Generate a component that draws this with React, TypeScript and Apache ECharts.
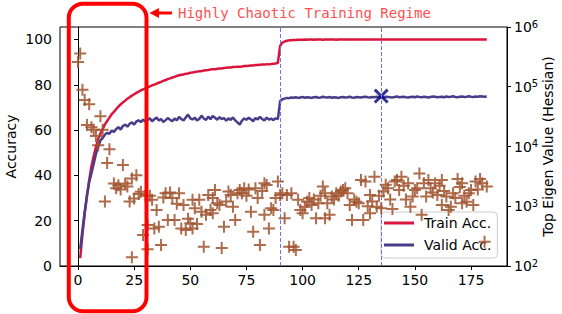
import React, { useEffect, useRef } from "react";
import * as echarts from "echarts";

// Accuracy per epoch (epoch 1..182)
const trainAcc = [
  3.5, 14, 23, 31, 38, 44, 48.5, 52.5, 56, 58.5,
  60.5, 62.5, 64, 65.5, 67, 68, 69.3, 70.3, 71.3, 72.2,
  73, 73.8, 74.5, 75.2, 75.8, 76.4, 77, 77.5, 78, 78.4,
  78.8, 79.3, 79.7, 80.1, 80.5, 80.9, 81.3, 81.7, 82.1, 82.5,
  82.8, 83.2, 83.5, 83.9, 84.2, 84.4, 84.5, 84.9, 85, 85.3,
  85.4, 85.6, 85.8, 86, 86, 86.3, 86.4, 86.5, 86.7, 86.9,
  86.8, 87.1, 87.2, 87.2, 87.4, 87.5, 87.6, 87.6, 87.8, 87.9,
  88, 88, 88.1, 88.3, 88.3, 88.4, 88.5, 88.5, 88.7, 88.7,
  88.8, 88.9, 88.9, 89.1, 89, 89.2, 89.3, 89.4, 89.7, 97.2,
  98.6, 99.1, 99.4, 99.6, 99.7, 99.8, 99.8, 99.9, 99.9, 99.9,
  100, 99.9, 100, 100, 99.9, 100, 100, 100, 99.9, 100,
  100, 100, 100, 100, 99.9, 100, 100, 100, 100, 100,
  100, 100, 100, 100, 100, 100, 100, 100, 100, 100,
  100, 100, 100, 100, 100, 100, 100, 100, 100, 100,
  100, 100, 100, 100, 100, 100, 100, 100, 100, 100,
  100, 100, 100, 100, 100, 100, 100, 100, 100, 100,
  100, 100, 100, 100, 100, 100, 100, 100, 100, 100,
  100, 100, 100, 100, 100, 100, 100, 100, 100, 100,
  100, 100,
];

const validAcc = [
  7.5, 16, 24, 31, 37, 41, 45, 49.5, 52.5, 55.5,
  56.5, 58, 58.8, 58.3, 59.8, 59.2, 60.5, 61.3, 60.2, 61.8,
  62.4, 61.5, 62.8, 63.4, 62.4, 63.8, 64.3, 63.5, 64.6, 63.8,
  64.5, 65.2, 63.9, 64.8, 65.5, 64.2, 64.9, 63.6, 64.4, 65.3,
  64.6, 63.9, 65.1, 64.3, 65.8, 64.9, 64.2, 65.6, 66.8, 65.2,
  64.7, 65.5, 64.3, 64.9, 66.4, 65.1, 64.5, 65.9, 64.8, 66.2,
  65.4, 64.6, 65.7, 64.9, 65.3, 64.1, 65.2, 64.5, 65.6, 64.3,
  63.4, 62.4, 64.2, 65.1, 64.6, 65.4, 64.8, 63.9, 65.3, 64.7,
  65.8, 64.9, 64.2, 65.5, 64.6, 65.1, 64.4, 65.2, 64.8, 72.8,
  73.6, 73.9, 74.2, 74.1, 74.4, 74.3, 74.5, 74.2, 74.4, 74.6,
  74.3, 74.5, 74.4, 74.2, 74.5, 74.6, 74.3, 74.4, 74.7, 74.5,
  74.4, 74.6, 74.3, 74.5, 74.4, 74.2, 74.5, 74.6, 74.4, 74.5,
  74.7, 74.4, 74.3, 74.6, 74.5, 74.4, 74.6, 74.7, 74.5, 74.4,
  74.6, 74.5, 74.7, 74.6, 74.4, 74.5, 74.7, 74.6, 74.5, 74.4,
  74.6, 74.8, 74.5, 74.6, 74.7, 74.5, 74.4, 74.6, 74.7, 74.5,
  74.8, 74.6, 74.5, 74.7, 74.6, 74.4, 74.6, 74.8, 74.7, 74.5,
  74.6, 74.7, 74.5, 74.8, 74.6, 74.7, 74.9, 74.6, 74.5, 74.7,
  74.8, 74.6, 74.7, 74.9, 74.7, 74.6, 74.8, 74.7, 74.9, 74.8,
  74.7, 74.8,
];

// Top Hessian eigenvalue: [epoch, value]
const eigenPoints: [number, number][] = [
  [0, 260000], [1, 360000], [2, 89000], [3, 60000], [4, 23000], [5, 51000], [6, 21000],
  [7, 19000], [8, 15000], [9, 10500], [10, 32000], [11, 19000], [12, 1200], [13, 5300],
  [14, 9000], [16, 2400], [17, 2000], [18, 2250], [19, 1900], [20, 4900], [21, 2400],
  [22, 2150], [23, 1200], [24, 2900], [24, 140], [25, 1350], [26, 3300], [27, 1600],
  [28, 1750], [29, 330], [30, 1500], [31, 190], [31, 485], [32, 1500], [33, 1280],
  [34, 425], [35, 865], [36, 455], [37, 225], [38, 1400], [39, 1650], [40, 590],
  [41, 1700], [42, 1370], [43, 590], [44, 1100], [45, 1650], [46, 425], [47, 1050],
  [48, 400], [49, 620], [50, 520], [51, 1280], [51, 425], [52, 930], [53, 505],
  [54, 1280], [55, 810], [56, 210], [57, 720], [58, 1550], [59, 865], [60, 1370],
  [60, 760], [61, 1870], [62, 1120], [63, 1050], [64, 200], [65, 455], [66, 1200],
  [67, 1760], [68, 1550], [69, 980], [70, 590], [71, 1650], [72, 1870], [73, 1650],
  [74, 2000], [75, 1500], [76, 1900], [77, 810], [78, 375], [79, 2000], [80, 1370],
  [81, 225], [82, 1800], [83, 2420], [83, 720], [84, 2260], [85, 425], [86, 930],
  [87, 865], [88, 1370], [89, 2590], [90, 1550], [91, 1650], [92, 630], [93, 1550],
  [94, 210], [95, 1650], [96, 210], [97, 185], [98, 1280], [99, 865], [100, 760],
  [101, 980], [102, 1190], [103, 1370], [104, 1050], [105, 1300], [106, 630], [107, 1120],
  [108, 1500], [109, 2140], [110, 1650], [110, 630], [111, 1120], [112, 720], [113, 1450],
  [114, 1300], [115, 1650], [116, 1500], [117, 1760], [118, 1870], [119, 2000], [120, 1650],
  [121, 1050], [122, 590], [123, 1300], [124, 1190], [125, 1120], [126, 2760], [127, 590],
  [128, 2590], [129, 1000], [130, 1550], [130, 760], [131, 1200], [132, 3130], [133, 980],
  [134, 1500], [135, 930], [136, 1760], [137, 2300], [138, 2000], [139, 1300], [140, 900],
  [141, 2590], [142, 2760], [143, 1870], [144, 3130], [145, 2200], [146, 1300], [147, 2420],
  [148, 980], [149, 1450], [150, 1870], [151, 2000], [152, 3540], [153, 720], [154, 2420],
  [155, 1450], [156, 2760], [157, 2000], [158, 1700], [159, 2420], [160, 1550], [161, 2200],
  [162, 1050], [162, 2760], [163, 1800], [164, 1450], [165, 865], [166, 980], [167, 1650],
  [168, 1370], [169, 2870], [170, 2100], [171, 2420], [171, 1120], [172, 1500], [173, 1190],
  [174, 1650], [175, 1870], [176, 1050], [177, 2590], [178, 1900], [179, 2870], [180, 2420],
  [181, 255], [182, 2140],
];

const markerPoint: [number, number] = [135, 75];
const boundaryEpochs = [90, 135];
const xTicks = [0, 25, 50, 75, 100, 125, 150, 175];
const yTicks = [0, 20, 40, 60, 80, 100];
const seriesNames = ["Train Acc.", "Valid Acc."];
const annotation = "Highly Chaotic Training Regime";

const PLUS = "path://M5,0 H7 V5 H12 V7 H7 V12 H5 V7 H0 V5 H5 Z";
const CROSS = "path://M0,2 L2,0 L7,5 L12,0 L14,2 L9,7 L14,12 L12,14 L7,9 L2,14 L0,12 L5,7 Z";

export default function App() {
  const ref = useRef<HTMLDivElement>(null);
  useEffect(() => {
    if (!ref.current) return;
    const chart = echarts.init(ref.current, undefined, { renderer: "svg" });
    const font = "DejaVu Sans";
    const axisLine = { show: true, lineStyle: { color: "#000", width: 1 } };
    const axisTick = { show: true, length: 4, lineStyle: { color: "#000", width: 1 } };
    chart.setOption({
      animation: false,
      backgroundColor: "#fff",
      textStyle: { fontFamily: font },
      grid: {
        left: 60, right: 55, top: 27, bottom: 48,
        outerBoundsMode: "none",
        containLabel: false,
        show: true, borderColor: "#000", borderWidth: 1,
      },
      legend: {
        data: seriesNames,
        orient: "vertical",
        left: 381,
        top: 212,
        icon: "rect",
        itemWidth: 30,
        itemHeight: 3,
        itemGap: 8,
        padding: [4, 6, 6, 3],
        backgroundColor: "rgba(255,255,255,0.8)",
        borderColor: "#cccccc",
        borderWidth: 1,
        borderRadius: 4,
        z: 4,
        textStyle: { fontSize: 14, color: "#000", fontFamily: font, padding: [0, 0, 0, 5] },
      },
      xAxis: {
        type: "value",
        min: -8,
        max: 191,
        axisLine,
        axisTick: { ...axisTick, customValues: xTicks },
        axisLabel: { customValues: xTicks, fontSize: 14, color: "#000", margin: 7, fontFamily: font },
        splitLine: { show: false },
      },
      yAxis: [
        {
          type: "value",
          min: 0,
          max: 105.5,
          position: "left",
          name: "Accuracy",
          nameLocation: "middle",
          nameRotate: 90,
          nameGap: 42,
          nameMoveOverlap: false,
          nameTextStyle: { fontSize: 14, color: "#000", fontFamily: font },
          axisLine,
          axisTick: { ...axisTick, customValues: yTicks },
          axisLabel: { customValues: yTicks, fontSize: 14, color: "#000", margin: 8, fontFamily: font },
          splitLine: { show: false },
        },
        {
          type: "log",
          logBase: 10,
          min: 100,
          max: 1000000,
          position: "right",
          name: "Top Eigen Value (Hessian)",
          nameLocation: "middle",
          nameRotate: 90,
          nameGap: 34,
          nameMoveOverlap: false,
          nameTextStyle: { fontSize: 14, color: "#000", fontFamily: font },
          axisLine,
          axisTick,
          axisLabel: {
            fontSize: 14,
            color: "#000",
            margin: 7,
            fontFamily: font,
            formatter: (v: number) => `{b|10}{s|${Math.round(Math.log10(v))}}`,
            rich: {
              b: { fontSize: 14, color: "#000", fontFamily: font, lineHeight: 16 },
              s: { fontSize: 10, color: "#000", fontFamily: font, verticalAlign: "top", lineHeight: 10, padding: [0, 0, 8, 0] },
            },
          },
          splitLine: { show: false },
        },
      ],
      series: [
        {
          name: seriesNames[0],
          type: "line",
          yAxisIndex: 0,
          data: trainAcc.map((v, i) => [i + 1, v]),
          symbol: "none",
          lineStyle: { color: "#DC143C", width: 2.5 },
          itemStyle: { color: "#DC143C" },
          z: 2,
          markLine: {
            silent: true,
            symbol: "none",
            label: { show: false },
            lineStyle: { color: "#7070f0", width: 1, type: [4, 2] },
            data: boundaryEpochs.map((x) => ({ xAxis: x })),
          },
        },
        {
          name: seriesNames[1],
          type: "line",
          yAxisIndex: 0,
          data: validAcc.map((v, i) => [i + 1, v]),
          symbol: "none",
          lineStyle: { color: "#483D8B", width: 2.5 },
          itemStyle: { color: "#483D8B" },
          z: 2,
        },
        {
          name: "Marker",
          type: "scatter",
          yAxisIndex: 0,
          data: [markerPoint],
          symbol: CROSS,
          symbolSize: 15,
          itemStyle: { color: "#000080" },
          z: 3,
        },
        {
          name: "Top Eigen Value",
          type: "scatter",
          yAxisIndex: 1,
          data: eigenPoints,
          symbol: PLUS,
          symbolSize: 12,
          itemStyle: { color: "#A0522D", opacity: 0.85 },
          z: 5,
        },
      ],
      graphic: [
        {
          type: "rect",
          z: 100,
          shape: { x: 68.8, y: 3.8, width: 77.7, height: 307.5, r: 14 },
          style: { fill: "none", stroke: "#ff0000", lineWidth: 4 },
        },
        {
          type: "line",
          z: 100,
          shape: { x1: 157, y1: 13, x2: 172, y2: 13 },
          style: { stroke: "#ff0000", lineWidth: 3 },
        },
        {
          type: "polygon",
          z: 100,
          shape: { points: [[149.5, 13], [159, 8], [159, 18]] },
          style: { fill: "#ff0000" },
        },
        {
          type: "text",
          z: 100,
          x: 178,
          y: 13,
          style: {
            text: annotation,
            font: "14px 'DejaVu Sans Mono'",
            fill: "#ff5050",
            textVerticalAlign: "middle",
          },
        },
      ],
    });
    return () => chart.dispose();
  }, []);
  return (
    <div
      ref={ref}
      style={{ position: "fixed", left: 0, top: 0, width: 562, height: 314 }}
    />
  );
}
